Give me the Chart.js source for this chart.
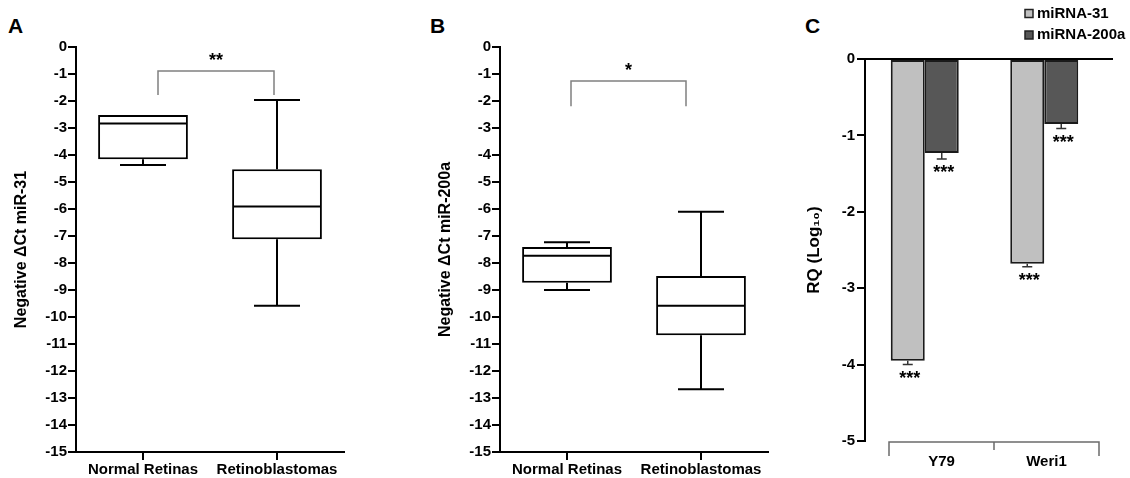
<!DOCTYPE html>
<html>
<head>
<meta charset="utf-8">
<script src="https://cdn.jsdelivr.net/npm/chart.js@4.4.1/dist/chart.umd.min.js"></script>
<style>
body { margin: 0; background: #fff; width: 1130px; height: 478px; position: relative; overflow: hidden; font-family: Arial, "Liberation Sans", sans-serif; }
.panel { position: absolute; top: 0; }
.letter { position: absolute; top: 15px; font-weight: bold; font-size: 21px; line-height: 21px; color: #000; }
</style>
</head>
<body>
<div class="letter" style="left:8px">A</div>
<div class="letter" style="left:430px">B</div>
<div class="letter" style="left:805px">C</div>
<div class="panel" style="left:0px"><canvas id="chartA" width="350" height="478"></canvas></div>
<div class="panel" style="left:424px"><canvas id="chartB" width="350" height="478"></canvas></div>
<div class="panel" style="left:780px"><canvas id="chartC" width="350" height="478"></canvas></div>
<script>
// data ---------------------------------------------------------------->
const groups = ['Normal Retinas', 'Retinoblastomas'];

// panel A : miR-31 (negative delta Ct)
const mir31Min = [-4.37, -9.58];
const mir31Q1 = [-4.16, -7.12];
const mir31Median = [-2.83, -5.91];
const mir31Q3 = [-2.52, -4.53];
const mir31Max = [-2.52, -1.96];

// panel B : miR-200a (negative delta Ct)
const mir200Min = [-9.0, -12.68];
const mir200Q1 = [-8.73, -10.68];
const mir200Median = [-7.73, -9.58];
const mir200Q3 = [-7.41, -8.48];
const mir200Max = [-7.23, -6.1];

// panel C : RQ (log10) per cell line
const cellLines = ['Y79', 'Weri1'];
const rq31 = [-3.95, -2.68];
const rq31Err = [0.05, 0.04];
const rq200a = [-1.23, -0.85];
const rq200aErr = [0.08, 0.06];
const rqStars31 = ['***', '***'];
const rqStars200a = ['***', '***'];

const FONT = 'Arial, "Liberation Sans", sans-serif';

// box plot whiskers, medians and significance bracket -------------------->
function boxPlugin(mins, medians, q1s, q3s, maxs, bracket) {
    return {
        id: 'boxWhiskers',
        afterDatasetsDraw(chart) {
            const ctx = chart.ctx;
            const y = chart.scales.y;
            const bars = chart.getDatasetMeta(0).data;
            ctx.save();
            ctx.strokeStyle = '#000';
            ctx.lineWidth = 2;
            bars.forEach((bar, i) => {
                const cx = bar.x;
                const half = bar.width / 2;
                const capHalf = 23;
                ctx.beginPath();
                // median
                ctx.moveTo(cx - half + 1, y.getPixelForValue(medians[i]));
                ctx.lineTo(cx + half - 1, y.getPixelForValue(medians[i]));
                // upper whisker
                if (maxs[i] > q3s[i]) {
                    ctx.moveTo(cx, y.getPixelForValue(q3s[i]));
                    ctx.lineTo(cx, y.getPixelForValue(maxs[i]));
                    ctx.moveTo(cx - capHalf, y.getPixelForValue(maxs[i]));
                    ctx.lineTo(cx + capHalf, y.getPixelForValue(maxs[i]));
                }
                // lower whisker
                if (mins[i] < q1s[i]) {
                    ctx.moveTo(cx, y.getPixelForValue(q1s[i]));
                    ctx.lineTo(cx, y.getPixelForValue(mins[i]));
                    ctx.moveTo(cx - capHalf, y.getPixelForValue(mins[i]));
                    ctx.lineTo(cx + capHalf, y.getPixelForValue(mins[i]));
                }
                ctx.stroke();
            });

            // bracket between the two groups
            const x1 = bars[0].x + bracket.leftShift;
            const x2 = bars[1].x + bracket.rightShift;
            const yTop = y.getPixelForValue(bracket.top);
            const yLeg = y.getPixelForValue(bracket.leg);
            ctx.strokeStyle = '#808080';
            ctx.lineWidth = 1.5;
            ctx.beginPath();
            ctx.moveTo(x1, yLeg);
            ctx.lineTo(x1, yTop);
            ctx.lineTo(x2, yTop);
            ctx.lineTo(x2, yLeg);
            ctx.stroke();
            ctx.fillStyle = '#000';
            ctx.font = 'bold 18px ' + FONT;
            ctx.textAlign = 'center';
            ctx.textBaseline = 'alphabetic';
            ctx.fillText(bracket.text, (x1 + x2) / 2, yTop - 5);
            ctx.restore();
        }
    };
}

function boxChart(canvasId, mins, q1s, medians, q3s, maxs, yTitle, bracket) {
    const boxes = q1s.map((q1, i) => [q1, q3s[i]]);
    return new Chart(document.getElementById(canvasId), {
        type: 'bar',
        data: {
            labels: groups,
            datasets: [{
                data: boxes,
                backgroundColor: '#fff',
                borderColor: '#000',
                borderWidth: 2,
                borderSkipped: false,
                barPercentage: 1,
                categoryPercentage: 0.67
            }]
        },
        options: {
            responsive: false,
            animation: false,
            layout: { padding: { top: 47, right: 6, left: 0, bottom: 0 } },
            plugins: { legend: { display: false }, tooltip: { enabled: false } },
            scales: {
                x: {
                    afterFit: (scale) => { scale.height = 26; },
                    border: { color: '#000', width: 2 },
                    grid: { drawOnChartArea: false, offset: false, tickLength: 8, color: '#000', lineWidth: 2 },
                    ticks: { color: '#000', padding: 1, font: { family: FONT, size: 15, weight: 'bold' } }
                },
                y: {
                    min: -15,
                    max: 0,
                    afterFit: (scale) => { scale.width = 76; },
                    border: { color: '#000', width: 2 },
                    grid: { drawOnChartArea: false, tickLength: 8, color: '#000', lineWidth: 2 },
                    ticks: { stepSize: 1, color: '#000', padding: 1, font: { family: FONT, size: 15, weight: 'bold' } },
                    title: {
                        display: true,
                        text: yTitle,
                        color: '#000',
                        padding: { top: 12, bottom: 0 },
                        font: { family: FONT, size: 16, weight: 'bold' }
                    }
                }
            }
        },
        plugins: [boxPlugin(mins, medians, q1s, q3s, maxs, bracket)]
    });
}

// panel A and B ----------------------------------------------------------->
const chartA = boxChart('chartA', mir31Min, mir31Q1, mir31Median, mir31Q3, mir31Max,
    'Negative \u0394Ct miR-31', { top: -0.89, leg: -1.78, leftShift: 15, rightShift: -3, text: '**' });

const chartB = boxChart('chartB', mir200Min, mir200Q1, mir200Median, mir200Q3, mir200Max,
    'Negative \u0394Ct miR-200a', { top: -1.26, leg: -2.19, leftShift: 4, rightShift: -15, text: '*' });

// panel C extras: zero line, error bars, stars, group bracket, legend ------>
const rqPlugin = {
    id: 'rqExtras',
    afterDatasetsDraw(chart) {
        const ctx = chart.ctx;
        const y = chart.scales.y;
        const area = chart.chartArea;
        const errs = [rq31Err, rq200aErr];
        const stars = [rqStars31, rqStars200a];
        ctx.save();

        // zero line
        ctx.strokeStyle = '#000';
        ctx.lineWidth = 2;
        ctx.beginPath();
        ctx.moveTo(area.left, y.getPixelForValue(0));
        ctx.lineTo(area.right + 9, y.getPixelForValue(0));
        ctx.stroke();

        // error bars + stars
        chart.data.datasets.forEach((ds, d) => {
            chart.getDatasetMeta(d).data.forEach((bar, i) => {
                const yEnd = y.getPixelForValue(ds.data[i] - errs[d][i]);
                ctx.strokeStyle = '#333';
                ctx.lineWidth = 1.5;
                ctx.beginPath();
                ctx.moveTo(bar.x, bar.y);
                ctx.lineTo(bar.x, yEnd);
                ctx.moveTo(bar.x - 5, yEnd);
                ctx.lineTo(bar.x + 5, yEnd);
                ctx.stroke();
                ctx.fillStyle = '#000';
                ctx.font = 'bold 18px ' + FONT;
                ctx.textAlign = 'center';
                ctx.textBaseline = 'alphabetic';
                ctx.fillText(stars[d][i], bar.x + 2, yEnd + 19);
            });
        });

        // category bracket below the plot
        const bx1 = area.left + 24;
        const bx2 = area.right - 5;
        const bmid = (bx1 + bx2) / 2;
        const by = area.bottom + 1;
        ctx.strokeStyle = '#6b6b6b';
        ctx.lineWidth = 1.5;
        ctx.beginPath();
        ctx.moveTo(bx1, by + 14);
        ctx.lineTo(bx1, by);
        ctx.lineTo(bx2, by);
        ctx.lineTo(bx2, by + 14);
        ctx.moveTo(bmid, by);
        ctx.lineTo(bmid, by + 8);
        ctx.stroke();
        ctx.fillStyle = '#000';
        ctx.font = 'bold 15px ' + FONT;
        ctx.textAlign = 'center';
        ctx.textBaseline = 'middle';
        chart.data.labels.forEach((lab, i) => {
            const cx = i === 0 ? (bx1 + bmid) / 2 : (bmid + bx2) / 2;
            ctx.fillText(lab, cx, by + 20);
        });

        // legend
        const legX = 245;
        const legY = [13.5, 35];
        chart.data.datasets.forEach((ds, d) => {
            ctx.fillStyle = ds.backgroundColor;
            ctx.fillRect(legX, legY[d] - 4, 8, 8);
            ctx.strokeStyle = '#222';
            ctx.lineWidth = 1.5;
            ctx.strokeRect(legX, legY[d] - 4, 8, 8);
            ctx.fillStyle = '#000';
            ctx.font = 'bold 15px ' + FONT;
            ctx.textAlign = 'left';
            ctx.textBaseline = 'middle';
            ctx.fillText(ds.label, legX + 12, legY[d]);
        });
        ctx.restore();
    }
};

const chartC = new Chart(document.getElementById('chartC'), {
    type: 'bar',
    data: {
        labels: cellLines,
        datasets: [
            {
                label: 'miRNA-31',
                data: rq31,
                backgroundColor: '#c0c0c0',
                borderColor: '#1a1a1a',
                borderWidth: 2,
                borderSkipped: false
            },
            {
                label: 'miRNA-200a',
                data: rq200a,
                backgroundColor: '#575757',
                borderColor: '#1a1a1a',
                borderWidth: 2,
                borderSkipped: false
            }
        ]
    },
    options: {
        responsive: false,
        animation: false,
        barPercentage: 1,
        categoryPercentage: 0.569,
        layout: { padding: { top: 59, right: 26, left: 0, bottom: 37 } },
        plugins: { legend: { display: false }, tooltip: { enabled: false } },
        scales: {
            x: { display: false },
            y: {
                min: -5,
                max: 0,
                afterFit: (scale) => { scale.width = 85; },
                border: { color: '#000', width: 2 },
                grid: { drawOnChartArea: false, tickLength: 8, color: '#000', lineWidth: 2 },
                ticks: { stepSize: 1, color: '#000', padding: 2, font: { family: FONT, size: 15, weight: 'bold' } },
                title: {
                    display: true,
                    text: 'RQ (Log\u2081\u2080)',
                    color: '#000',
                    padding: { top: 24, bottom: 0 },
                    font: { family: FONT, size: 17, weight: 'bold' }
                }
            }
        }
    },
    plugins: [rqPlugin]
});
</script>
</body>
</html>
